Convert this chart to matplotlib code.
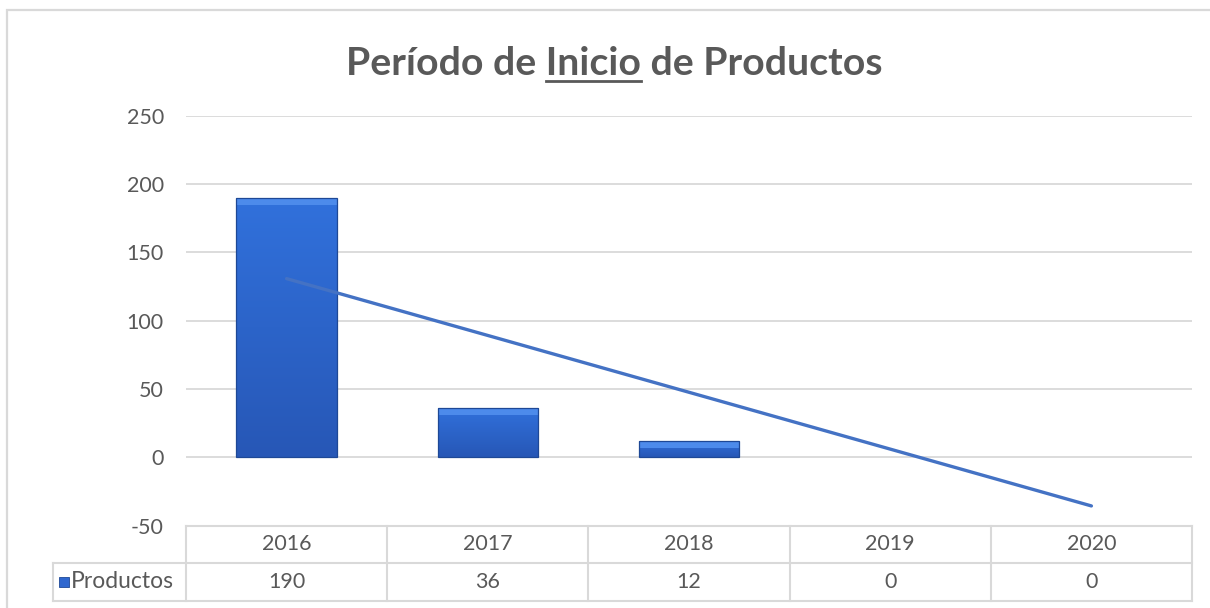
import numpy as np
import matplotlib

matplotlib.use('Agg')
import matplotlib.pyplot as plt
import matplotlib.transforms as mtransforms
from matplotlib.colors import to_rgb
from matplotlib.lines import Line2D
from matplotlib.patches import Rectangle

plt.rcParams['font.family'] = ['Lato', 'DejaVu Sans']

# data
years = ['2016', '2017', '2018', '2019', '2020']
productos = [190, 36, 12, 0, 0]
series_name = 'Productos'
title_pre = 'Período de '
title_mid = 'Inicio'
title_post = ' de Productos'
yticks = [-50, 0, 50, 100, 150, 200, 250]

text_color = '#595959'
grid_color = '#D9D9D9'
trend_color = '#4472C4'
bar_bottom = np.array(to_rgb('#2757B6'))
bar_top = np.array(to_rgb('#3171DC'))
bar_bevel = np.array(to_rgb('#4D8BEB'))

W, H = 1210, 608
fig = plt.figure(figsize=(W / 100, H / 100), dpi=100)

# chart border (top + left only visible)
fig.add_artist(Rectangle((7 / W, -0.1), 1.2, 1.1 - 10 / H, transform=fig.transFigure,
                         fill=False, edgecolor='#D9D9D9', linewidth=1.6))

ax = fig.add_axes([186 / W, 1 - 525.6 / H, (1192 - 186) / W, (525.6 - 115.8) / H])
px_per_unit = (525.6 - 115.8) / 300.0

x = np.arange(len(years))
bars = ax.bar(x, productos, width=0.5, facecolor='none', edgecolor='#1E4896',
              linewidth=0.9, zorder=4)

# shaded fill with a light top bevel, clipped to each bar
n = 400
t = np.linspace(0, 1, n)
for b in bars:
    h = b.get_height()
    if h <= 0:
        b.set_edgecolor('none')
        continue
    frac = min(8.0 / (h * px_per_unit), 0.45)
    rgb = bar_bottom[None, :] * (1 - t[:, None]) + bar_top[None, :] * t[:, None]
    rgb[t > 1 - frac] = bar_bevel
    img = rgb.reshape(n, 1, 3)
    im = ax.imshow(img, extent=[b.get_x(), b.get_x() + b.get_width(), 0, h],
                   origin='lower', aspect='auto', zorder=3, interpolation='nearest')
    im.set_clip_path(b)

# linear trend line
coef = np.polyfit(x, productos, 1)
ax.plot(x, np.polyval(coef, x), color=trend_color, linewidth=2.4,
        solid_capstyle='round', zorder=5)

ax.set_xlim(-0.5, len(years) - 0.5)
ax.set_ylim(yticks[0], yticks[-1])
ax.set_yticks(yticks)
ax.set_yticklabels([str(v) for v in yticks])
ax.set_xticks([])
ax.yaxis.grid(True, color=grid_color, linewidth=1.3)
ax.set_axisbelow(True)
for s in ax.spines.values():
    s.set_visible(False)
ax.tick_params(axis='y', length=0, pad=16, labelsize=15.5, labelcolor=text_color)

# data table under the axis
trans = mtransforms.blended_transform_factory(ax.transData, ax.transAxes)
r1 = -(563 - 525.6) / 409.8
r2 = -(601 - 525.6) / 409.8
px = 1006 / len(years)
label_left = -0.5 - (186 - 52.7) / px
right = len(years) - 0.5
lkw = dict(color=grid_color, linewidth=1.5, transform=trans, clip_on=False)
ax.add_line(Line2D([-0.5, right], [0, 0], **lkw))
ax.add_line(Line2D([label_left, right], [r1, r1], **lkw))
ax.add_line(Line2D([label_left, right], [r2, r2], **lkw))
ax.add_line(Line2D([label_left, label_left], [r1, r2], **lkw))
for i in range(len(years) + 1):
    ax.add_line(Line2D([i - 0.5, i - 0.5], [0, r2], **lkw))

for i, (yr, v) in enumerate(zip(years, productos)):
    ax.text(i, r1 / 2, yr, transform=trans, ha='center', va='center',
            fontsize=15.5, color=text_color)
    ax.text(i, (r1 + r2) / 2, str(v), transform=trans, ha='center', va='center',
            fontsize=15.5, color=text_color)

key_x = -0.5 - (186 - 64) / px
ax.plot([key_x], [(r1 + r2) / 2], marker='s', markersize=7, color='#2F67CF',
        markeredgecolor='#1E4896', markeredgewidth=0.6, transform=trans, clip_on=False)
ax.text(-0.5 - (186 - 71) / px, (r1 + r2) / 2, series_name, transform=trans,
        ha='left', va='center', fontsize=16.5, color=text_color)

# title with underlined middle word
title_kw = dict(fontsize=28.3, fontweight='bold', color=text_color)
tx, ty = 0.508, 1 - 75 / H
full = fig.text(tx, ty, title_pre + title_mid + title_post, ha='center', va='baseline', **title_kw)
renderer = fig.canvas.get_renderer()
bb_full = full.get_window_extent(renderer)
tmp1 = fig.text(0, 0, title_pre + title_mid, **title_kw)
tmp2 = fig.text(0, 0, title_mid, **title_kw)
w1 = tmp1.get_window_extent(renderer).width
w2 = tmp2.get_window_extent(renderer).width
tmp1.remove()
tmp2.remove()
u_right = bb_full.x0 + w1
u_left = u_right - w2
u_y = ty * H - 6
fig.add_artist(Line2D([u_left / W, u_right / W], [u_y / H, u_y / H], transform=fig.transFigure,
                      color=text_color, linewidth=2.0))

fig.savefig('out.png', dpi=100)
